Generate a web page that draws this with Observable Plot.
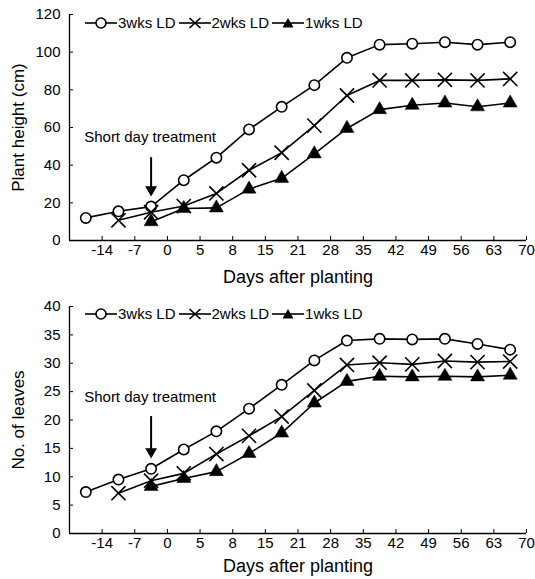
<!DOCTYPE html>
<html><head><meta charset="utf-8">
<script src="https://cdn.jsdelivr.net/npm/d3@7"></script>
<script src="https://cdn.jsdelivr.net/npm/@observablehq/plot@0.6"></script>
<style>
body{margin:0;background:#fff;font-family:"Liberation Sans",Arial,sans-serif;}
#wrap{position:relative;width:535px;height:579px;}
.chart{position:relative;}
.chart svg{display:block;}
.legend{position:absolute;display:flex;align-items:center;font-size:15px;color:#000;white-space:nowrap;line-height:16px;}
.legend svg{display:block;}
.legend span{margin:0 3px 0 1px;}
</style></head><body><div id="wrap"></div>
<script>
// ---- data ----
const xTickLabels = ["-14","-7","0","5","8","15","21","28","35","42","49","56","63","70"];
const seriesNames = ["3wks LD","2wks LD","1wks LD"];
const heightLD3 = [12,15.5,18,32,44,59,71,82.5,97,104,104.5,105.3,104,105.3];
const heightLD2 = [null,10.7,15,18.3,25,37.3,46.6,61,77,85,85,85.3,85,85.8];
const heightLD1 = [null,null,10,17,17.3,27.3,33,46,59.5,69.5,71.8,73,71,73];
const leavesLD3 = [7.3,9.5,11.4,14.8,18,22,26.2,30.5,34,34.3,34.2,34.3,33.4,32.4];
const leavesLD2 = [null,7.1,9.3,10.6,14,17.2,20.6,25.2,29.7,30.1,29.8,30.4,30.2,30.3];
const leavesLD1 = [null,null,8.3,9.7,10.9,14.1,17.7,23,26.8,27.7,27.6,27.7,27.6,27.9];
const treatmentIndex = 2;
const annotationText = "Short day treatment";
const xTitle = "Days after planting";

function rows(arrays) {
  const out = [];
  arrays.forEach((arr, s) => arr.forEach((v, i) => {
    if (v != null) out.push({i, pos: i + 0.5, value: v, series: seriesNames[s]});
  }));
  return out;
}

function makeChart(cfg) {
  const data = rows(cfg.arrays);
  const by = name => data.filter(d => d.series === name);
  const plot = Plot.plot({
    width: 535,
    height: cfg.height,
    marginLeft: 69,
    marginRight: 9,
    marginTop: cfg.marginTop,
    marginBottom: cfg.marginBottom,
    style: {fontFamily: '"Liberation Sans", Arial, sans-serif', fontSize: "15px", color: "#000", background: "#fff"},
    x: {domain: [0, xTickLabels.length]},
    y: {domain: cfg.yDomain},
    marks: [
      Plot.axisY(cfg.yTicks, {tickSize: -4, tickPadding: 13, fontSize: 15, label: null, stroke: "#000", strokeWidth: 1}),
      Plot.axisX(d3.range(1, xTickLabels.length + 1), {tickSize: -4, tickPadding: 8, fontSize: 15, tickFormat: i => xTickLabels[i - 1], label: null, strokeWidth: 1}),
      Plot.text([cfg.yLabel], {frameAnchor: "left", text: d => d, rotate: -90, dx: -51, fontSize: 17, textAnchor: "middle"}),
      Plot.text([xTitle], {frameAnchor: "bottom", text: d => d, dy: cfg.xLabelDy, fontSize: 18, textAnchor: "middle"}),
      Plot.ruleX([0], {stroke: "#000", strokeWidth: 1.3}),
      Plot.ruleY([cfg.yDomain[0]], {stroke: "#000", strokeWidth: 1.3}),
      Plot.line(data, {x: "pos", y: "value", z: "series", stroke: "#000", strokeWidth: 1.6}),
      Plot.dot(by(seriesNames[0]), {x: "pos", y: "value", symbol: "circle", r: 5.2, fill: "#fff", stroke: "#000", strokeWidth: 1.6}),
      Plot.dot(by(seriesNames[1]), {x: "pos", y: "value", symbol: "times", r: 6.5, stroke: "#000", strokeWidth: 1.6}),
      Plot.dot(by(seriesNames[2]), {x: "pos", y: "value", symbol: "triangle", r: 5.2, fill: "#000", stroke: "#000", strokeWidth: 0.5}),
      Plot.text([annotationText], {x: 0.45, y: cfg.annotY, text: d => d, textAnchor: "start", fontSize: 15}),
      Plot.ruleX([treatmentIndex + 0.5], {y1: cfg.arrowFrom, y2: cfg.arrowHead, stroke: "#000", strokeWidth: 2}),
      Plot.dot([treatmentIndex + 0.5], {x: d => d, y: cfg.arrowHead, symbol: "triangle", rotate: 180, r: 4.4, fill: "#000", stroke: "none"})
    ]
  });
  const div = document.createElement("div");
  div.className = "chart";
  div.appendChild(plot);
  const legend = document.createElement("div");
  legend.className = "legend";
  legend.style.left = "85px";
  legend.style.top = cfg.legendTop + "px";
  const sym = [
    '<circle cx="16" cy="8" r="5" fill="#fff" stroke="#000" stroke-width="1.6"/>',
    '<path d="M10.5,3 L21.5,13 M21.5,3 L10.5,13" stroke="#000" stroke-width="1.6"/>',
    '<path d="M16,3 L21.5,12.5 L10.5,12.5 Z" fill="#000"/>'
  ];
  legend.innerHTML = seriesNames.map((n, k) =>
    `<svg width="32" height="16"><line x1="0" x2="32" y1="8" y2="8" stroke="#000" stroke-width="1.6"/>${sym[k]}</svg><span>${n}</span>`
  ).join("");
  div.appendChild(legend);
  return div;
}

const wrap = document.getElementById("wrap");
wrap.appendChild(makeChart({
  arrays: [heightLD3, heightLD2, heightLD1],
  height: 290, marginTop: 14, marginBottom: 50,
  yDomain: [0, 120], yTicks: [0, 20, 40, 60, 80, 100, 120],
  yLabel: "Plant height (cm)", xLabelDy: 42,
  annotY: 54.8, arrowFrom: 44, arrowHead: 27,
  legendTop: 15
}));
wrap.appendChild(makeChart({
  arrays: [leavesLD3, leavesLD2, leavesLD1],
  height: 289, marginTop: 16, marginBottom: 46,
  yDomain: [0, 40], yTicks: [0, 5, 10, 15, 20, 25, 30, 35, 40],
  yLabel: "No. of leaves", xLabelDy: 38,
  annotY: 24.0, arrowFrom: 20.6, arrowHead: 14.4,
  legendTop: 16
}));
</script></body></html>
